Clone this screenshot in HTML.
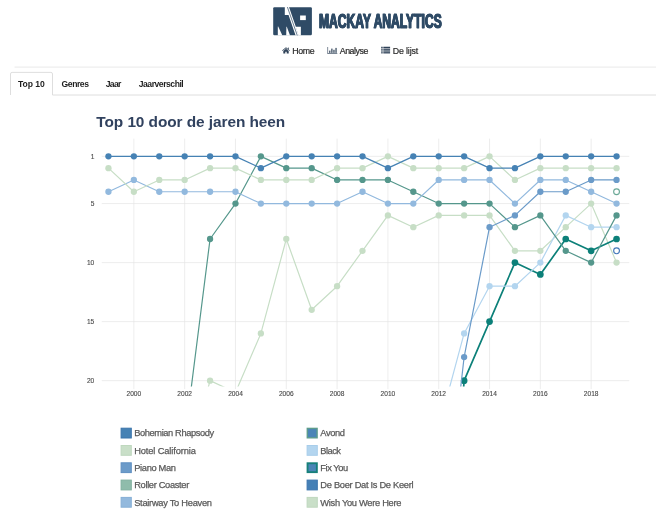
<!DOCTYPE html>
<html lang="nl">
<head>
<meta charset="utf-8">
<title>Mackay Analytics</title>
<style>
html,body{margin:0;padding:0;background:#fff}
body{width:656px;height:521px;position:relative;overflow:hidden;font-family:"Liberation Sans",sans-serif;color:#222}
a{text-decoration:none;color:inherit}
.logo{position:absolute;left:0;top:0;width:656px;height:40px}
.brand{position:absolute;left:319.41px;top:7.9px;margin:0;font-weight:bold;font-size:19.34156378600823px;line-height:26px;color:#2f4b66;white-space:nowrap;transform-origin:0 50%;transform:scaleX(0.6254);-webkit-text-stroke:1.1px #2f4b66;text-shadow:0.75px 0 0 #2f4b66,-0.75px 0 0 #2f4b66}
.nv{position:absolute;top:45.9px;-webkit-text-stroke:0.2px #2a2a2a;font-size:8.8px;line-height:11px;color:#2a2a2a;white-space:nowrap}
.ico{position:absolute;top:0;left:0}
.lines{position:absolute;left:0;top:60px}
.tab{position:absolute;top:78.9px;font-size:8.6px;line-height:11px;font-weight:bold;color:#1f1f1f;white-space:nowrap}
h2{position:absolute;left:96.3px;top:111.5px;margin:0;font-size:15.4px;line-height:20px;font-weight:bold;color:#31425f;white-space:nowrap;letter-spacing:-0.064px}
.chart{position:absolute;left:0;top:120px}
.legend{list-style:none;margin:0;padding:0}
.legend li{position:absolute;height:11px;white-space:nowrap;font-size:9.3px;line-height:11px;color:#595959;-webkit-text-stroke:0.25px #595959}
.lbox{position:absolute;left:0;top:420px}
</style>
</head>
<body>
<header>
<svg class="logo" viewBox="0 0 656 40">
<rect x="273.2" y="7.2" width="38.7" height="28" rx="1.2" fill="#2f4b66"/>
<g fill="#fff">
<polygon points="284.8,7.0 289.00,7.0 298.85,35.4 295.60,35.4 288.56,15.1 284.8,15.1"/>
<polygon points="277.8,26.6 278.2,26.6 282.4,35.4 277.8,35.4"/>
<polygon points="286.4,26.7 286.8,26.7 290.1,35.4 286.2,35.4"/>
<polygon points="295.57,26.8 300.9,26.8 300.9,35.4 298.55,35.4"/>
<rect x="300.1" y="15.5" width="5.7" height="4.6"/>
</g>
<path d="M287.40 7.0L297.25 35.4" stroke="#2f4b66" stroke-width="0.7" fill="none"/>
</svg>
<h1 class="brand">MACKAY ANALYTICS</h1>
</header>
<nav>
<svg class="ico" width="656" height="60" viewBox="0 0 656 60">
<g fill="#2f4258">
<g transform="translate(286 50.45) scale(0.87)">
<path d="M0 -3.6l4.5 3.7-0.55 0.65-3.95-3.25-3.95 3.25-0.55-0.65z"/>
<path d="M0 -1.9l3.1 2.55v2.85h-2.3v-2.0h-1.6v2.0h-2.3v-2.85z"/>
<rect x="2.2" y="-3.3" width="0.95" height="1.9"/>
</g>
<path d="M327.4 47h0.7v6.3h9.2v0.65h-9.9z" opacity="0.85"/>
<g opacity="0.8"><rect x="329.0" y="50.6" width="1.5" height="2.3"/><rect x="331.1" y="48.6" width="1.5" height="4.3"/><rect x="333.2" y="49.8" width="1.5" height="3.1"/><rect x="335.3" y="47.9" width="1.5" height="5"/></g>
<rect x="381.2" y="46.75" width="1.5" height="1.3"/><rect x="383.3" y="46.75" width="6.8" height="1.3"/>
<rect x="381.2" y="48.55" width="1.5" height="1.3"/><rect x="383.3" y="48.55" width="6.8" height="1.3"/>
<rect x="381.2" y="50.35" width="1.5" height="1.3"/><rect x="383.3" y="50.35" width="6.8" height="1.3"/>
<rect x="381.2" y="52.15" width="1.5" height="1.3"/><rect x="383.3" y="52.15" width="6.8" height="1.3"/>
</g>
</svg>
<a class="nv" style="left:292.2px;letter-spacing:-0.325px">Home</a>
<a class="nv" style="left:339.8px;letter-spacing:-0.468px">Analyse</a>
<a class="nv" style="left:392.7px;letter-spacing:-0.115px">De lijst</a>
</nav>
<svg class="lines" width="656" height="40" viewBox="0 60 656 40">
<path d="M14.5 67.1H656" stroke="#e6e6e6" stroke-width="0.9" fill="none"/>
<path d="M10.5 95V74Q10.5 72.4 12.1 72.4H50.9Q52.5 72.4 52.5 74V95H656" stroke="#dadada" stroke-width="0.9" fill="none"/>
</svg>
<a class="tab active" style="left:18.1px;letter-spacing:-0.095px">Top 10</a>
<a class="tab" style="left:61.6px;letter-spacing:-0.448px">Genres</a>
<a class="tab" style="left:105.8px;letter-spacing:-0.732px">Jaar</a>
<a class="tab" style="left:138.7px;letter-spacing:-0.464px">Jaarverschil</a>
<h2>Top 10 door de jaren heen</h2>
<svg class="chart" width="656" height="300" viewBox="0 120 656 300">
<defs><clipPath id="cp"><rect x="95.75" y="138.64" width="533.51" height="247.91"/></clipPath></defs>
<path d="M133.86 138.64V389.05M184.67 138.64V389.05M235.48 138.64V389.05M286.29 138.64V389.05M337.10 138.64V389.05M387.91 138.64V389.05M438.71 138.64V389.05M489.53 138.64V389.05M540.34 138.64V389.05M591.15 138.64V389.05M101.75 156.35H629.25M101.75 203.57H629.25M101.75 262.60H629.25M101.75 321.62H629.25M101.75 380.64H629.25" stroke="#e3e3e3" stroke-width="0.65" fill="none"/>
<g font-family="'Liberation Sans',sans-serif" font-size="6.6" fill="#4a4a4a" stroke="#4a4a4a" stroke-width="0.12">
<text x="94.3" y="158.75" text-anchor="end">1</text>
<text x="94.3" y="205.97" text-anchor="end">5</text>
<text x="94.3" y="265.00" text-anchor="end">10</text>
<text x="94.3" y="324.02" text-anchor="end">15</text>
<text x="94.3" y="383.04" text-anchor="end">20</text>
<text x="133.86" y="396.4" text-anchor="middle">2000</text>
<text x="184.67" y="396.4" text-anchor="middle">2002</text>
<text x="235.48" y="396.4" text-anchor="middle">2004</text>
<text x="286.29" y="396.4" text-anchor="middle">2006</text>
<text x="337.10" y="396.4" text-anchor="middle">2008</text>
<text x="387.91" y="396.4" text-anchor="middle">2010</text>
<text x="438.71" y="396.4" text-anchor="middle">2012</text>
<text x="489.53" y="396.4" text-anchor="middle">2014</text>
<text x="540.34" y="396.4" text-anchor="middle">2016</text>
<text x="591.15" y="396.4" text-anchor="middle">2018</text>
</g>
<g clip-path="url(#cp)" fill="none" stroke-linejoin="round" stroke-linecap="round">
<path d="M184.67 475.09L210.07 380.64L235.48 392.45L260.88 333.42L286.29 238.98L311.69 309.81L337.10 286.20L362.50 250.79L387.91 215.38L413.31 227.18L438.71 215.38L464.12 215.38L489.53 215.38L514.93 250.79L540.34 250.79L565.74 227.18L591.15 203.57L616.55 262.60" stroke="#c7dec6" stroke-width="1.2"/>
<circle cx="210.07" cy="380.64" r="3.15" fill="#c7dec6"/>
<circle cx="260.88" cy="333.42" r="3.15" fill="#c7dec6"/>
<circle cx="286.29" cy="238.98" r="3.15" fill="#c7dec6"/>
<circle cx="311.69" cy="309.81" r="3.15" fill="#c7dec6"/>
<circle cx="337.10" cy="286.20" r="3.15" fill="#c7dec6"/>
<circle cx="362.50" cy="250.79" r="3.15" fill="#c7dec6"/>
<circle cx="387.91" cy="215.38" r="3.15" fill="#c7dec6"/>
<circle cx="413.31" cy="227.18" r="3.15" fill="#c7dec6"/>
<circle cx="438.71" cy="215.38" r="3.15" fill="#c7dec6"/>
<circle cx="464.12" cy="215.38" r="3.15" fill="#c7dec6"/>
<circle cx="489.53" cy="215.38" r="3.15" fill="#c7dec6"/>
<circle cx="514.93" cy="250.79" r="3.15" fill="#c7dec6"/>
<circle cx="540.34" cy="250.79" r="3.15" fill="#c7dec6"/>
<circle cx="565.74" cy="227.18" r="3.15" fill="#c7dec6"/>
<circle cx="591.15" cy="203.57" r="3.15" fill="#c7dec6"/>
<circle cx="616.55" cy="262.60" r="3.15" fill="#c7dec6"/>
<circle cx="616.55" cy="250.79" r="2.9" fill="#fff" stroke="#4177b8" stroke-width="1.1"/>
<path d="M438.71 734.79L464.12 380.64L489.53 321.62L514.93 262.60L540.34 274.40L565.74 238.98L591.15 250.79L616.55 238.98" stroke="#0c8079" stroke-width="1.7"/>
<circle cx="464.12" cy="380.64" r="3.35" fill="#0c8079"/>
<circle cx="489.53" cy="321.62" r="3.35" fill="#0c8079"/>
<circle cx="514.93" cy="262.60" r="3.35" fill="#0c8079"/>
<circle cx="540.34" cy="274.40" r="3.35" fill="#0c8079"/>
<circle cx="565.74" cy="238.98" r="3.35" fill="#0c8079"/>
<circle cx="591.15" cy="250.79" r="3.35" fill="#0c8079"/>
<circle cx="616.55" cy="238.98" r="3.35" fill="#0c8079"/>
<path d="M438.71 427.87L464.12 333.42L489.53 286.20L514.93 286.20L540.34 262.60L565.74 215.38L591.15 227.18L616.55 227.18" stroke="#b3d5ef" stroke-width="1.2"/>
<circle cx="464.12" cy="333.42" r="3.15" fill="#b3d5ef"/>
<circle cx="489.53" cy="286.20" r="3.15" fill="#b3d5ef"/>
<circle cx="514.93" cy="286.20" r="3.15" fill="#b3d5ef"/>
<circle cx="540.34" cy="262.60" r="3.15" fill="#b3d5ef"/>
<circle cx="565.74" cy="215.38" r="3.15" fill="#b3d5ef"/>
<circle cx="591.15" cy="227.18" r="3.15" fill="#b3d5ef"/>
<circle cx="616.55" cy="227.18" r="3.15" fill="#b3d5ef"/>
<path d="M184.67 439.67L210.07 238.98L235.48 203.57L260.88 156.35L286.29 168.16L311.69 168.16L337.10 179.96L362.50 179.96L387.91 179.96L413.31 191.76L438.71 203.57L464.12 203.57L489.53 203.57L514.93 227.18L540.34 215.38L565.74 250.79L591.15 262.60L616.55 215.38" stroke="#55978c" stroke-width="1.2"/>
<circle cx="210.07" cy="238.98" r="3.15" fill="#55978c"/>
<circle cx="235.48" cy="203.57" r="3.15" fill="#55978c"/>
<circle cx="260.88" cy="156.35" r="3.15" fill="#55978c"/>
<circle cx="286.29" cy="168.16" r="3.15" fill="#55978c"/>
<circle cx="311.69" cy="168.16" r="3.15" fill="#55978c"/>
<circle cx="337.10" cy="179.96" r="3.15" fill="#55978c"/>
<circle cx="362.50" cy="179.96" r="3.15" fill="#55978c"/>
<circle cx="387.91" cy="179.96" r="3.15" fill="#55978c"/>
<circle cx="413.31" cy="191.76" r="3.15" fill="#55978c"/>
<circle cx="438.71" cy="203.57" r="3.15" fill="#55978c"/>
<circle cx="464.12" cy="203.57" r="3.15" fill="#55978c"/>
<circle cx="489.53" cy="203.57" r="3.15" fill="#55978c"/>
<circle cx="514.93" cy="227.18" r="3.15" fill="#55978c"/>
<circle cx="540.34" cy="215.38" r="3.15" fill="#55978c"/>
<circle cx="565.74" cy="250.79" r="3.15" fill="#55978c"/>
<circle cx="591.15" cy="262.60" r="3.15" fill="#55978c"/>
<circle cx="616.55" cy="215.38" r="3.15" fill="#55978c"/>
<path d="M108.45 191.76L133.86 179.96L159.26 191.76L184.67 191.76L210.07 191.76L235.48 191.76L260.88 203.57L286.29 203.57L311.69 203.57L337.10 203.57L362.50 191.76L387.91 203.57L413.31 203.57L438.71 179.96L464.12 179.96L489.53 179.96L514.93 203.57L540.34 179.96L565.74 179.96L591.15 191.76L616.55 203.57" stroke="#92b9de" stroke-width="1.2"/>
<circle cx="108.45" cy="191.76" r="3.15" fill="#92b9de"/>
<circle cx="133.86" cy="179.96" r="3.15" fill="#92b9de"/>
<circle cx="159.26" cy="191.76" r="3.15" fill="#92b9de"/>
<circle cx="184.67" cy="191.76" r="3.15" fill="#92b9de"/>
<circle cx="210.07" cy="191.76" r="3.15" fill="#92b9de"/>
<circle cx="235.48" cy="191.76" r="3.15" fill="#92b9de"/>
<circle cx="260.88" cy="203.57" r="3.15" fill="#92b9de"/>
<circle cx="286.29" cy="203.57" r="3.15" fill="#92b9de"/>
<circle cx="311.69" cy="203.57" r="3.15" fill="#92b9de"/>
<circle cx="337.10" cy="203.57" r="3.15" fill="#92b9de"/>
<circle cx="362.50" cy="191.76" r="3.15" fill="#92b9de"/>
<circle cx="387.91" cy="203.57" r="3.15" fill="#92b9de"/>
<circle cx="413.31" cy="203.57" r="3.15" fill="#92b9de"/>
<circle cx="438.71" cy="179.96" r="3.15" fill="#92b9de"/>
<circle cx="464.12" cy="179.96" r="3.15" fill="#92b9de"/>
<circle cx="489.53" cy="179.96" r="3.15" fill="#92b9de"/>
<circle cx="514.93" cy="203.57" r="3.15" fill="#92b9de"/>
<circle cx="540.34" cy="179.96" r="3.15" fill="#92b9de"/>
<circle cx="565.74" cy="179.96" r="3.15" fill="#92b9de"/>
<circle cx="591.15" cy="191.76" r="3.15" fill="#92b9de"/>
<circle cx="616.55" cy="203.57" r="3.15" fill="#92b9de"/>
<circle cx="616.55" cy="191.76" r="2.9" fill="#fff" stroke="#6aa896" stroke-width="1.1"/>
<path d="M438.71 581.33L464.12 357.03L489.53 227.18L514.93 215.38L540.34 191.76L565.74 191.76L591.15 179.96L616.55 179.96" stroke="#6b9bc9" stroke-width="1.2"/>
<circle cx="464.12" cy="357.03" r="3.15" fill="#6b9bc9"/>
<circle cx="489.53" cy="227.18" r="3.15" fill="#6b9bc9"/>
<circle cx="514.93" cy="215.38" r="3.15" fill="#6b9bc9"/>
<circle cx="540.34" cy="191.76" r="3.15" fill="#6b9bc9"/>
<circle cx="565.74" cy="191.76" r="3.15" fill="#6b9bc9"/>
<circle cx="591.15" cy="179.96" r="3.15" fill="#6b9bc9"/>
<circle cx="616.55" cy="179.96" r="3.15" fill="#6b9bc9"/>
<path d="M108.45 168.16L133.86 191.76L159.26 179.96L184.67 179.96L210.07 168.16L235.48 168.16L260.88 179.96L286.29 179.96L311.69 179.96L337.10 168.16L362.50 168.16L387.91 156.35L413.31 168.16L438.71 168.16L464.12 168.16L489.53 156.35L514.93 179.96L540.34 168.16L565.74 168.16L591.15 168.16L616.55 168.16" stroke="#c7dec6" stroke-width="1.2"/>
<circle cx="108.45" cy="168.16" r="3.15" fill="#c7dec6"/>
<circle cx="133.86" cy="191.76" r="3.15" fill="#c7dec6"/>
<circle cx="159.26" cy="179.96" r="3.15" fill="#c7dec6"/>
<circle cx="184.67" cy="179.96" r="3.15" fill="#c7dec6"/>
<circle cx="210.07" cy="168.16" r="3.15" fill="#c7dec6"/>
<circle cx="235.48" cy="168.16" r="3.15" fill="#c7dec6"/>
<circle cx="260.88" cy="179.96" r="3.15" fill="#c7dec6"/>
<circle cx="286.29" cy="179.96" r="3.15" fill="#c7dec6"/>
<circle cx="311.69" cy="179.96" r="3.15" fill="#c7dec6"/>
<circle cx="337.10" cy="168.16" r="3.15" fill="#c7dec6"/>
<circle cx="362.50" cy="168.16" r="3.15" fill="#c7dec6"/>
<circle cx="387.91" cy="156.35" r="3.15" fill="#c7dec6"/>
<circle cx="413.31" cy="168.16" r="3.15" fill="#c7dec6"/>
<circle cx="438.71" cy="168.16" r="3.15" fill="#c7dec6"/>
<circle cx="464.12" cy="168.16" r="3.15" fill="#c7dec6"/>
<circle cx="489.53" cy="156.35" r="3.15" fill="#c7dec6"/>
<circle cx="514.93" cy="179.96" r="3.15" fill="#c7dec6"/>
<circle cx="540.34" cy="168.16" r="3.15" fill="#c7dec6"/>
<circle cx="565.74" cy="168.16" r="3.15" fill="#c7dec6"/>
<circle cx="591.15" cy="168.16" r="3.15" fill="#c7dec6"/>
<circle cx="616.55" cy="168.16" r="3.15" fill="#c7dec6"/>
<path d="M108.45 156.35L133.86 156.35L159.26 156.35L184.67 156.35L210.07 156.35L235.48 156.35L260.88 168.16L286.29 156.35L311.69 156.35L337.10 156.35L362.50 156.35L387.91 168.16L413.31 156.35L438.71 156.35L464.12 156.35L489.53 168.16L514.93 168.16L540.34 156.35L565.74 156.35L591.15 156.35L616.55 156.35" stroke="#4682b4" stroke-width="1.2"/>
<circle cx="108.45" cy="156.35" r="3.15" fill="#4682b4"/>
<circle cx="133.86" cy="156.35" r="3.15" fill="#4682b4"/>
<circle cx="159.26" cy="156.35" r="3.15" fill="#4682b4"/>
<circle cx="184.67" cy="156.35" r="3.15" fill="#4682b4"/>
<circle cx="210.07" cy="156.35" r="3.15" fill="#4682b4"/>
<circle cx="235.48" cy="156.35" r="3.15" fill="#4682b4"/>
<circle cx="260.88" cy="168.16" r="3.15" fill="#4682b4"/>
<circle cx="286.29" cy="156.35" r="3.15" fill="#4682b4"/>
<circle cx="311.69" cy="156.35" r="3.15" fill="#4682b4"/>
<circle cx="337.10" cy="156.35" r="3.15" fill="#4682b4"/>
<circle cx="362.50" cy="156.35" r="3.15" fill="#4682b4"/>
<circle cx="387.91" cy="168.16" r="3.15" fill="#4682b4"/>
<circle cx="413.31" cy="156.35" r="3.15" fill="#4682b4"/>
<circle cx="438.71" cy="156.35" r="3.15" fill="#4682b4"/>
<circle cx="464.12" cy="156.35" r="3.15" fill="#4682b4"/>
<circle cx="489.53" cy="168.16" r="3.15" fill="#4682b4"/>
<circle cx="514.93" cy="168.16" r="3.15" fill="#4682b4"/>
<circle cx="540.34" cy="156.35" r="3.15" fill="#4682b4"/>
<circle cx="565.74" cy="156.35" r="3.15" fill="#4682b4"/>
<circle cx="591.15" cy="156.35" r="3.15" fill="#4682b4"/>
<circle cx="616.55" cy="156.35" r="3.15" fill="#4682b4"/>
</g>
</svg>
<svg class="lbox" width="656" height="101" viewBox="0 420 656 101">
<rect x="121.10" y="428.20" width="10.20" height="9.80" fill="#4682b4" stroke="#3b74aa" stroke-width="1"/>
<rect x="121.10" y="445.50" width="10.20" height="9.80" fill="#c9dfc8" stroke="#bfd8be" stroke-width="1"/>
<rect x="121.10" y="462.80" width="10.20" height="9.80" fill="#6c9bc9" stroke="#5f8fc1" stroke-width="1"/>
<rect x="121.10" y="480.10" width="10.20" height="9.80" fill="#8fbcab" stroke="#80b09e" stroke-width="1"/>
<rect x="121.10" y="497.40" width="10.20" height="9.80" fill="#93b9dd" stroke="#86afd6" stroke-width="1"/>
<rect x="307.30" y="428.40" width="9.80" height="9.40" fill="#4b85b7" stroke="#5d9c8c" stroke-width="1.4"/>
<rect x="307.10" y="445.50" width="10.20" height="9.80" fill="#b3d5ef" stroke="#a8cdea" stroke-width="1"/>
<rect x="307.55" y="463.25" width="9.30" height="8.90" fill="#4b85b7" stroke="#17807b" stroke-width="1.9"/>
<rect x="307.10" y="480.10" width="10.20" height="9.80" fill="#4580b6" stroke="#3b74ad" stroke-width="1"/>
<rect x="307.10" y="497.40" width="10.20" height="9.80" fill="#c9dfc8" stroke="#bfd8be" stroke-width="1"/>
</svg>
<ul class="legend">
<li style="top:427.6px;left:134.2px;letter-spacing:-0.396px">Bohemian Rhapsody</li>
<li style="top:445.6px;left:134.2px;letter-spacing:-0.125px">Hotel California</li>
<li style="top:462.6px;left:134.2px;letter-spacing:-0.333px">Piano Man</li>
<li style="top:479.6px;left:134.2px;letter-spacing:-0.334px">Roller Coaster</li>
<li style="top:497.6px;left:134.2px;letter-spacing:-0.279px">Stairway To Heaven</li>
<li style="top:427.6px;left:320.3px;letter-spacing:-0.375px">Avond</li>
<li style="top:445.6px;left:320.3px;letter-spacing:-0.535px">Black</li>
<li style="top:462.6px;left:320.3px;letter-spacing:-0.434px">Fix You</li>
<li style="top:479.6px;left:320.3px;letter-spacing:-0.294px">De Boer Dat Is De Keerl</li>
<li style="top:497.6px;left:320.3px;letter-spacing:-0.291px">Wish You Were Here</li>
</ul>
</body>
</html>
